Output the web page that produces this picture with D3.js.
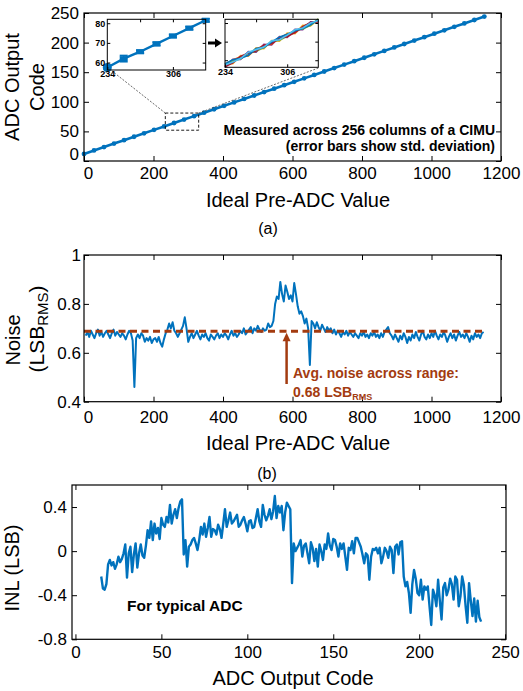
<!DOCTYPE html>
<html><head><meta charset="utf-8">
<script src="https://cdn.jsdelivr.net/npm/d3@7"></script>
<style>
body{margin:0;background:#fff}
svg{display:block}
text{font-family:"Liberation Sans",Arial,Helvetica,sans-serif;fill:#000}
</style>
</head><body>
<svg id="c" width="523" height="691"></svg>
<script>
// ---------------- DATA ----------------
// (a) transfer curve: ideal pre-ADC value vs ADC output code (mean over 256 columns)
const preX = [0,28.8,57.6,86.4,115.2,144,172.8,201.6,230.4,259.2,288,316.8,345.6,374.4,403.2,432,460.8,489.6,518.4,547.2,576,604.8,633.6,662.4,691.2,720,748.8,777.6,806.4,835.2,864,892.8,921.6,950.4,979.2,1008,1036.8,1065.6,1094.4,1123.2,1152];
const adcCode = [12.0,17.8,23.6,29.4,35.2,41.0,46.8,52.6,58.4,64.2,70.0,75.8,81.6,87.4,93.2,99.0,104.8,110.6,116.4,122.2,128.0,133.8,139.6,145.4,151.2,157.0,162.8,168.6,174.4,180.2,186.0,191.8,197.6,203.4,209.2,215.0,220.8,226.6,232.4,238.2,244.0];
const adcStd = [0.8,0.7,0.8,0.7,0.8,0.9,0.7,0.8,0.8,0.9,0.7,0.8,0.8,0.7,0.8,0.8,0.9,0.8,0.7,0.8,1.0,1.1,1.0,0.9,0.8,0.8,0.7,0.8,0.8,0.7,0.8,0.8,0.7,0.8,0.8,0.7,0.8,0.8,0.7,0.8,0.8];
const xTicksA = [0,200,400,600,800,1000,1200];
const yTicksA = [0,50,100,150,200,250];

// inset 1 (mean with error bars)
const insetX = [234,252,270,288,306,324,342];
const insetY = [57.5,62.0,65.5,69.5,73.5,77.5,81.5];
const insetErr = [1.0,1.6,0.8,0.9,0.8,0.8,0.8];
const insetXTicks = [234,306];
const insetYTicks = [60,70,80];
// inset 2 (individual columns)
const columnX = [234,243,252,261,270,279,288,297,306,315,324,333,342];
const columnTraces = [
  [56.2,60.5,60.4,64.6,64.3,68.6,68.2,72.7,72.3,76.6,76.4,80.7,80.6],
  [58.3,58.1,62.5,62.2,66.6,66.2,70.6,70.3,74.6,74.3,78.7,78.4,82.0],
  [56.8,60.1,61.9,62.6,66.0,67.9,68.6,72.1,73.9,74.7,78.1,80.0,81.0],
  [57.9,59.8,60.6,64.0,64.8,66.8,70.1,70.8,72.8,76.1,76.8,78.8,82.2],
  [56.5,58.6,62.1,63.9,65.0,68.1,69.0,71.8,72.6,75.0,77.9,80.3,80.9],
  [58.0,60.3,61.0,62.7,66.3,66.9,69.8,72.4,74.0,75.9,77.1,79.1,81.8],
  [57.4,59.0,60.9,64.3,65.7,67.1,70.4,71.0,73.5,76.4,77.3,80.0,81.4]
];
const columnColors = ["#7E2F8E","#EDB120","#D95319","#77AC30","#A2142F","#0072BD","#4DBEEE"];

// (b) noise vs ideal pre-ADC value
const noiseX = [5,10,15,20,25,30,35,40,45,50,55,60,65,70,75,80,85,90,95,100,
105,110,115,120,125,130,135,140,145,150,155,160,165,170,175,180,185,190,195,200,
205,210,215,220,225,230,235,240,245,250,255,260,265,270,275,280,285,290,295,300,
305,310,315,320,325,330,335,340,345,350,355,360,365,370,375,380,385,390,395,400,
405,410,415,420,425,430,435,440,445,450,455,460,465,470,475,480,485,490,495,500,
505,510,515,520,525,530,535,540,545,550,555,560,565,570,575,580,585,590,595,600,
605,610,615,620,625,630,635,640,645,650,655,660,665,670,675,680,685,690,695,700,
705,710,715,720,725,730,735,740,745,750,755,760,765,770,775,780,785,790,795,800,
805,810,815,820,825,830,835,840,845,850,855,860,865,870,875,880,885,890,895,900,
905,910,915,920,925,930,935,940,945,950,955,960,965,970,975,980,985,990,995,1000,
1005,1010,1015,1020,1025,1030,1035,1040,1045,1050,1055,1060,1065,1070,1075,1080,1085,1090,1095,1100,
1105,1110,1115,1120,1125,1130,1135,1140,1145,1150];
const noiseLSB = [0.67,0.685,0.665,0.69,0.675,0.66,0.68,0.695,0.67,0.685,0.665,0.68,0.69,0.675,0.66,0.68,0.695,0.67,0.685,0.675,
0.665,0.68,0.67,0.655,0.675,0.69,0.68,0.65,0.46,0.66,0.675,0.66,0.68,0.67,0.645,0.66,0.65,0.665,0.64,0.655,
0.66,0.645,0.665,0.64,0.625,0.655,0.68,0.695,0.72,0.70,0.725,0.69,0.68,0.665,0.68,0.695,0.71,0.745,0.70,0.645,
0.665,0.68,0.66,0.675,0.69,0.67,0.655,0.675,0.665,0.68,0.66,0.65,0.675,0.665,0.655,0.67,0.68,0.66,0.675,0.665,
0.68,0.67,0.655,0.675,0.69,0.67,0.68,0.665,0.675,0.69,0.68,0.70,0.675,0.685,0.695,0.705,0.68,0.70,0.69,0.71,
0.695,0.685,0.70,0.69,0.695,0.72,0.705,0.71,0.73,0.80,0.83,0.82,0.89,0.84,0.81,0.875,0.85,0.82,0.835,0.81,
0.885,0.84,0.79,0.76,0.77,0.75,0.72,0.74,0.70,0.55,0.73,0.72,0.70,0.725,0.705,0.69,0.715,0.70,0.685,0.705,
0.69,0.70,0.68,0.695,0.675,0.69,0.68,0.665,0.685,0.675,0.69,0.67,0.685,0.675,0.665,0.68,0.67,0.66,0.68,0.67,
0.685,0.665,0.675,0.66,0.68,0.67,0.685,0.665,0.675,0.66,0.68,0.665,0.685,0.695,0.705,0.68,0.67,0.655,0.675,0.66,
0.645,0.67,0.655,0.68,0.665,0.64,0.665,0.65,0.675,0.66,0.685,0.665,0.65,0.675,0.69,0.665,0.655,0.675,0.66,0.68,
0.665,0.69,0.67,0.655,0.675,0.665,0.685,0.67,0.645,0.665,0.68,0.66,0.675,0.65,0.67,0.685,0.665,0.675,0.66,0.68,
0.665,0.645,0.67,0.655,0.68,0.665,0.675,0.66,0.68,0.685];
const avgNoise = 0.688;
const avgNoiseSpan = [0,1152];
const yTicksB = [0.4,0.6,0.8,1];

// (c) INL vs ADC output code
const inlCode = [15,16,17,18,19,20,21,22,23,24,25,26,27,28,29,30,31,32,33,34,35,36,37,38,39,40,41,42,43,44,
45,46,47,48,49,50,51,52,53,54,55,56,57,58,59,60,61,62,63,64,65,66,67,68,69,70,71,72,73,74,
75,76,77,78,79,80,81,82,83,84,85,86,87,88,89,90,91,92,93,94,95,96,97,98,99,100,101,102,103,104,
105,106,107,108,109,110,111,112,113,114,115,116,117,118,119,120,121,122,123,124,125,126,127,128,129,130,131,132,133,134,
135,136,137,138,139,140,141,142,143,144,145,146,147,148,149,150,151,152,153,154,155,156,157,158,159,160,161,162,163,164,
165,166,167,168,169,170,171,172,173,174,175,176,177,178,179,180,181,182,183,184,185,186,187,188,189,190,191,192,193,194,
195,196,197,198,199,200,201,202,203,204,205,206,207,208,209,210,211,212,213,214,215,216,217,218,219,220,221,222,223,224,
225,226,227,228,229,230,231,232,233,234,235,236];
const inlLSB = [-0.23,-0.34,-0.35,-0.30,-0.12,-0.08,-0.13,-0.10,-0.16,-0.12,
-0.05,-0.10,-0.07,-0.02,0.06,-0.24,-0.02,0.04,-0.19,-0.03,
0.07,-0.15,-0.02,0.06,-0.04,-0.06,0.05,0.19,0.12,0.27,
0.10,0.25,0.16,0.21,0.11,0.30,0.24,0.22,0.31,0.26,
0.42,0.25,0.33,0.38,0.30,0.39,0.45,0.47,-0.03,0.10,
-0.14,0.04,0.06,0.10,0.12,0.07,0.01,0.10,0.22,0.15,
0.25,0.13,0.21,0.31,0.13,0.20,0.19,0.15,0.24,0.20,
0.12,0.25,0.38,0.22,0.28,0.35,0.25,0.27,0.30,0.33,
0.22,0.24,0.28,0.31,0.25,0.18,0.27,0.28,0.21,0.22,
0.30,0.38,0.27,0.22,0.42,0.33,0.28,0.32,0.38,0.29,
0.36,0.50,0.30,0.41,0.35,0.41,0.19,0.35,0.44,0.41,
0.38,-0.29,0.07,0.00,0.03,0.06,0.10,-0.05,0.05,0.07,
-0.02,-0.11,0.08,0.03,-0.09,0.02,-0.14,0.06,0.00,-0.08,
0.06,0.02,0.16,0.05,0.01,0.11,0.10,0.04,-0.05,0.07,
0.02,0.07,-0.05,-0.17,0.03,0.01,0.09,-0.02,0.12,0.12,
0.08,0.04,-0.03,-0.11,-0.02,-0.04,-0.26,-0.05,0.02,0.01,
0.03,-0.02,0.03,-0.11,-0.05,0.03,0.00,-0.06,0.04,0.01,
-0.20,0.04,0.06,-0.03,0.08,0.09,-0.23,-0.32,-0.28,-0.38,
-0.56,-0.30,-0.17,-0.25,-0.38,-0.40,-0.26,-0.44,-0.32,-0.35,
-0.32,-0.50,-0.67,-0.35,-0.40,-0.50,-0.26,-0.45,-0.62,-0.33,
-0.29,-0.40,-0.35,-0.25,-0.30,-0.44,-0.23,-0.26,-0.50,-0.41,
-0.23,-0.31,-0.50,-0.65,-0.29,-0.45,-0.59,-0.43,-0.64,-0.45,
-0.60,-0.64];
const xTicksC = [0,50,100,150,200,250];
const yTicksC = [-0.8,-0.4,0,0.4];

// ---------------- STYLE ----------------
const BLUE = "#0072BD", BROWN = "#A33B10";
const svg = d3.select("#c");

function frame(x, y, o) {
  const [x0, x1] = x.range(), [y0, y1] = y.range();
  const g = svg.append("g");
  const fmt = d => String(d);
  const bx = g.append("g").attr("transform", `translate(0,${y0})`)
    .call(d3.axisBottom(x).tickValues(o.xt).tickSizeInner(-5).tickSizeOuter(0).tickPadding(o.xpad).tickFormat(fmt));
  g.append("g").attr("transform", `translate(0,${y1})`)
    .call(d3.axisTop(x).tickValues(o.xt).tickSizeInner(-5).tickSizeOuter(0).tickFormat(""));
  const ly = g.append("g").attr("transform", `translate(${x0},0)`)
    .call(d3.axisLeft(y).tickValues(o.yt).tickSizeInner(-5).tickSizeOuter(0).tickPadding(o.ypad).tickFormat(fmt));
  g.append("g").attr("transform", `translate(${x1},0)`)
    .call(d3.axisRight(y).tickValues(o.yt).tickSizeInner(-5).tickSizeOuter(0).tickFormat(""));
  g.selectAll(".domain").remove();
  g.selectAll(".tick line").attr("stroke", "#000").attr("stroke-width", 1);
  g.selectAll(".tick text").attr("font-size", 17).attr("font-family", '"Liberation Sans",Arial,sans-serif').attr("fill", "#000");
  if (o.nudgeX0) bx.selectAll(".tick text").filter(d => d === 0).attr("dx", o.nudgeX0);
  if (o.nudgeY0) ly.selectAll(".tick text").filter(d => d === 0).attr("y", o.nudgeY0);
  g.append("rect").attr("x", x0).attr("y", y1).attr("width", x1 - x0).attr("height", y0 - y1)
    .attr("fill", "none").attr("stroke", "#000").attr("stroke-width", 1.2);
  return g;
}

// ================= (a) =================
const xA = d3.scaleLinear().domain([0, 1200]).range([84, 501]);
const yA = d3.scaleLinear().domain([0, 250]).range([161, 13]);

svg.append("path").datum(d3.zip(preX, adcCode))
  .attr("fill", "none").attr("stroke", BLUE).attr("stroke-width", 2.6)
  .attr("d", d3.line().x(d => xA(d[0])).y(d => yA(d[1])));
const eb = svg.append("g");
preX.forEach((px, i) => {
  const cx = xA(px), cy = yA(adcCode[i]);
  eb.append("line").attr("x1", cx).attr("x2", cx).attr("y1", yA(adcCode[i] - adcStd[i])).attr("y2", yA(adcCode[i] + adcStd[i]))
    .attr("stroke", BLUE).attr("stroke-width", 1.5);
  eb.append("circle").attr("cx", cx).attr("cy", cy).attr("r", 2.4).attr("fill", BLUE);
});

frame(xA, yA, {xt: xTicksA, yt: yTicksA, xpad: 6, ypad: 5, nudgeX0: 4, nudgeY0: -7});

// dashed zoom box
const boxX = [234, 330], boxY = [52, 81];
svg.append("rect").attr("x", xA(boxX[0])).attr("y", yA(boxY[1]))
  .attr("width", xA(boxX[1]) - xA(boxX[0])).attr("height", yA(boxY[0]) - yA(boxY[1]))
  .attr("fill", "none").attr("stroke", "#000").attr("stroke-width", 0.9).attr("stroke-dasharray", "3,2");

const xI1 = d3.scaleLinear().domain([234, 342]).range([107.3, 205.7]);
const yI1 = d3.scaleLinear().domain([56.2, 82]).range([70, 19.3]);
const xI2 = d3.scaleLinear().domain([234, 342]).range([225, 318.3]);
const yI2 = d3.scaleLinear().domain([56.2, 82]).range([67.3, 19.3]);

// connector lines
svg.append("line").attr("x1", xA(boxX[0])).attr("y1", yA(boxY[1])).attr("x2", 112).attr("y2", 71)
  .attr("stroke", "#444").attr("stroke-width", 0.8).attr("stroke-dasharray", "2,1.5");
svg.append("line").attr("x1", xA(boxX[1])).attr("y1", yA(boxY[1])).attr("x2", 318.3).attr("y2", 68)
  .attr("stroke", "#444").attr("stroke-width", 0.8).attr("stroke-dasharray", "2,1.5");

// inset backgrounds (plot areas only)
[[xI1, yI1], [xI2, yI2]].forEach(([x, y]) => {
  svg.append("rect").attr("x", x.range()[0]).attr("y", y.range()[1])
    .attr("width", x.range()[1] - x.range()[0]).attr("height", y.range()[0] - y.range()[1]).attr("fill", "#fff");
});

function insetFrame(x, y, labelsY) {
  const [x0, x1] = x.range(), [y0, y1] = y.range();
  const g = svg.append("g");
  g.append("g").attr("transform", `translate(0,${y0})`)
    .call(d3.axisBottom(x).tickValues(insetXTicks).tickSizeInner(-3).tickSizeOuter(0).tickPadding(1).tickFormat(d => String(d)));
  g.append("g").attr("transform", `translate(0,${y1})`)
    .call(d3.axisTop(x).tickValues([270, 306]).tickSizeInner(-3).tickSizeOuter(0).tickFormat(""));
  g.append("g").attr("transform", `translate(${x0},0)`)
    .call(d3.axisLeft(y).tickValues(insetYTicks).tickSizeInner(-3).tickSizeOuter(0).tickPadding(2).tickFormat(labelsY ? (d => String(d)) : ""));
  g.append("g").attr("transform", `translate(${x1},0)`)
    .call(d3.axisRight(y).tickValues(insetYTicks).tickSizeInner(-3).tickSizeOuter(0).tickFormat(""));
  g.selectAll(".domain").remove();
  g.selectAll(".tick text").attr("font-size", 9).attr("font-weight", "bold").attr("fill", "#000");
  g.append("rect").attr("x", x0).attr("y", y1).attr("width", x1 - x0).attr("height", y0 - y1)
    .attr("fill", "none").attr("stroke", "#000").attr("stroke-width", 1);
}

// inset 1 data
svg.append("path").datum(d3.zip(insetX, insetY))
  .attr("fill", "none").attr("stroke", BLUE).attr("stroke-width", 2.4)
  .attr("d", d3.line().x(d => xI1(d[0])).y(d => yI1(d[1])));
insetX.forEach((v, i) => {
  const cx = xI1(v), cy = yI1(insetY[i]);
  const yt = yI1(insetY[i] + insetErr[i]), yb = yI1(insetY[i] - insetErr[i]);
  svg.append("line").attr("x1", cx).attr("x2", cx).attr("y1", yt).attr("y2", yb).attr("stroke", BLUE).attr("stroke-width", 1.6);
  svg.append("line").attr("x1", cx - 4).attr("x2", cx + 4).attr("y1", yt).attr("y2", yt).attr("stroke", BLUE).attr("stroke-width", 1.6);
  svg.append("line").attr("x1", cx - 4).attr("x2", cx + 4).attr("y1", yb).attr("y2", yb).attr("stroke", BLUE).attr("stroke-width", 1.6);
  if (i === 0) svg.append("circle").attr("cx", cx).attr("cy", cy).attr("r", 4.5).attr("fill", BLUE);
  else svg.append("rect").attr("x", cx - 4).attr("y", cy - 2.5).attr("width", 8).attr("height", 5).attr("fill", BLUE);
});
insetFrame(xI1, yI1, true);

// inset 2 data
const cg = svg.append("g");
columnTraces.forEach((tr, k) => {
  cg.append("path").datum(d3.zip(columnX, tr))
    .attr("fill", "none").attr("stroke", columnColors[k % columnColors.length]).attr("stroke-width", 1.6)
    .attr("d", d3.line().x(d => xI2(d[0])).y(d => yI2(d[1])));
});
insetFrame(xI2, yI2, false);

// arrow between insets
svg.append("line").attr("x1", 208).attr("x2", 216).attr("y1", 43).attr("y2", 43).attr("stroke", "#000").attr("stroke-width", 3);
svg.append("path").attr("d", "M215,38.5 L222,43 L215,47.5 Z").attr("fill", "#000");

// annotations
svg.append("text").attr("x", 495).attr("y", 134.5).attr("text-anchor", "end")
  .attr("font-size", 14).attr("font-weight", "bold").text("Measured across 256 columns of a CIMU");
svg.append("text").attr("x", 495).attr("y", 150.5).attr("text-anchor", "end")
  .attr("font-size", 14).attr("font-weight", "bold").text("(error bars show std. deviation)");

// axis titles
svg.append("text").attr("transform", "translate(19,87) rotate(-90)").attr("text-anchor", "middle").attr("font-size", 20).text("ADC Output");
svg.append("text").attr("transform", "translate(43.5,87) rotate(-90)").attr("text-anchor", "middle").attr("font-size", 20).text("Code");
svg.append("text").attr("x", 298).attr("y", 207).attr("text-anchor", "middle").attr("font-size", 20).text("Ideal Pre-ADC Value");
svg.append("text").attr("x", 268).attr("y", 234).attr("text-anchor", "middle").attr("font-size", 16)
  .attr("font-family", '"Liberation Serif","Times New Roman",serif').text("(a)");

// ================= (b) =================
const xB = d3.scaleLinear().domain([0, 1200]).range([84, 501]);
const yB = d3.scaleLinear().domain([0.4, 1]).range([401.7, 255]);

svg.append("path").datum(d3.zip(noiseX, noiseLSB))
  .attr("fill", "none").attr("stroke", BLUE).attr("stroke-width", 2)
  .attr("stroke-linejoin", "round")
  .attr("d", d3.line().x(d => xB(d[0])).y(d => yB(d[1])));
svg.append("line").attr("x1", xB(avgNoiseSpan[0])).attr("x2", xB(avgNoiseSpan[1]))
  .attr("y1", yB(avgNoise)).attr("y2", yB(avgNoise))
  .attr("stroke", BROWN).attr("stroke-width", 3).attr("stroke-dasharray", "7,4.5");
frame(xB, yB, {xt: xTicksA, yt: yTicksB, xpad: 9, ypad: 3, nudgeX0: 4});

const arrX = xB(583);
svg.append("line").attr("x1", arrX).attr("x2", arrX).attr("y1", 384).attr("y2", yB(avgNoise) + 8)
  .attr("stroke", BROWN).attr("stroke-width", 2.5);
svg.append("path").attr("d", `M${arrX - 4},${yB(avgNoise) + 10} L${arrX},${yB(avgNoise) + 1.5} L${arrX + 4},${yB(avgNoise) + 10} Z`).attr("fill", BROWN);
svg.append("text").attr("x", 293).attr("y", 378).attr("font-size", 14).attr("font-weight", "bold")
  .style("fill", BROWN).text("Avg. noise across range:");
const t2 = svg.append("text").attr("x", 293).attr("y", 396.5).attr("font-size", 14).attr("font-weight", "bold").style("fill", BROWN);
t2.append("tspan").text("0.68 LSB");
t2.append("tspan").attr("font-size", 9).attr("dy", 3).text("RMS");

svg.append("text").attr("transform", "translate(20,340) rotate(-90)").attr("text-anchor", "middle").attr("font-size", 20).text("Noise");
const nl = svg.append("text").attr("transform", "translate(44,329) rotate(-90)").attr("text-anchor", "middle").attr("font-size", 21);
nl.append("tspan").text("(LSB");
nl.append("tspan").attr("font-size", 15).attr("dy", 4).text("RMS");
nl.append("tspan").attr("dy", -4).text(")");
svg.append("text").attr("x", 298).attr("y", 450).attr("text-anchor", "middle").attr("font-size", 20).text("Ideal Pre-ADC Value");
svg.append("text").attr("x", 267).attr("y", 479).attr("text-anchor", "middle").attr("font-size", 16)
  .attr("font-family", '"Liberation Serif","Times New Roman",serif').text("(b)");

// ================= (c) =================
const xC = d3.scaleLinear().domain([-2, 250.5]).range([72, 506]);
const yC = d3.scaleLinear().domain([-0.8, 0.6]).range([639.3, 485]);
svg.append("path").datum(d3.zip(inlCode, inlLSB))
  .attr("fill", "none").attr("stroke", BLUE).attr("stroke-width", 2.4)
  .attr("stroke-linejoin", "round")
  .attr("d", d3.line().x(d => xC(d[0])).y(d => yC(d[1])));
frame(xC, yC, {xt: xTicksC, yt: yTicksC, xpad: 6.5, ypad: 5});
svg.append("text").attr("x", 127).attr("y", 611).attr("font-size", 15.5).attr("font-weight", "bold").text("For typical ADC");
svg.append("text").attr("transform", "translate(19,568) rotate(-90)").attr("text-anchor", "middle").attr("font-size", 20).text("INL (LSB)");
svg.append("text").attr("x", 293).attr("y", 685).attr("text-anchor", "middle").attr("font-size", 20).text("ADC Output Code");
</script>
</body></html>
